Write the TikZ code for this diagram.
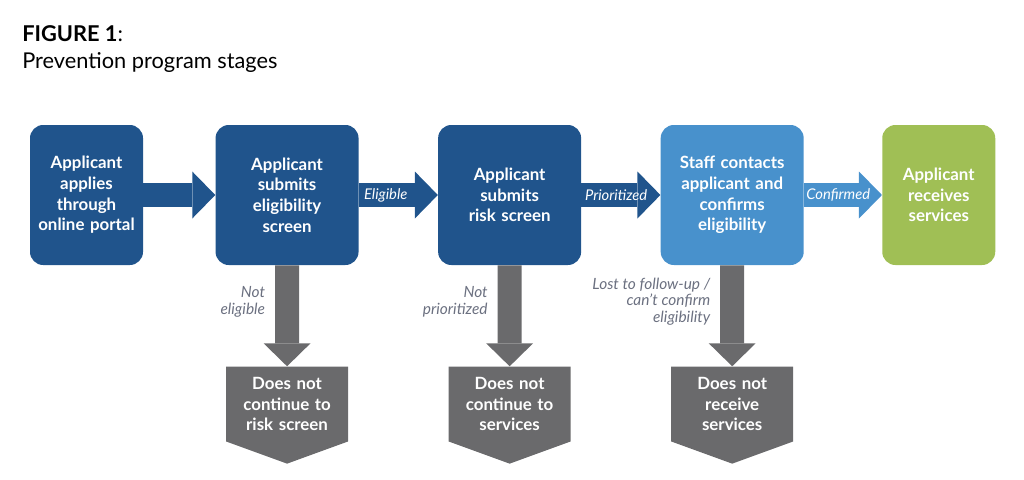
\documentclass[tikz,border=0pt]{standalone}
\usepackage{fontspec}
\setmainfont{Lato}
\usepackage{tikz}
\usetikzlibrary{arrows.meta,positioning,shapes.symbols}
\definecolor{hblue}{HTML}{20548C}
\definecolor{lblue}{HTML}{4891CC}
\definecolor{hgreen}{HTML}{A0BF55}
\definecolor{grisO}{HTML}{6A6A6C}
\definecolor{grisL}{HTML}{6B7080}
\tikzset{
  stage/.style={rectangle, rounded corners=3.3mm, fill=#1, text=white, inner sep=0pt,
                align=center, font=\bfseries\fontsize{12}{14.7}\selectfont, minimum height=3.5cm},
  outcome/.style={signal, signal to=south, signal from=nowhere, signal pointer angle=140,
                  fill=grisO, text=white, inner sep=0pt, align=center, text width=2.9cm,
                  font=\bfseries\fontsize{12}{14.7}\selectfont, minimum width=3.05cm, minimum height=2.4cm},
  flow/.style={draw=#1, line width=0.6cm,
               -{Triangle[length=0.575cm, width=1.175cm, line width=0pt]}},
  lbl/.style={text=white, inner sep=0pt, font=\itshape\fontsize{10.5}{12}\selectfont},
  lost/.style={text=grisL, inner sep=0pt, align=right, font=\itshape\fontsize{11}{12}\selectfont},
}
\begin{document}
\begin{tikzpicture}[node distance=1.975cm]
    \useasboundingbox (0,0) rectangle (25.6,-11.975);
    % title
    \node[anchor=base west, inner sep=0pt, font=\fontsize{15.5}{18}\selectfont] (fig)
      at (0.55,-1.025) {\textbf{FIGURE 1}:};
    \node[anchor=base west, inner sep=0pt, font=\fontsize{15.5}{18}\selectfont] (sub)
      at (0.55,-1.7) {Prevention program stages};
    % stages
    \node[stage=hblue, text width=2.825cm] (n1) at (2.1625,-4.875)
      {Applicant\\applies\\through\\online portal};
    \node[stage=hblue, text width=3.575cm, right=1.8cm of n1] (n2)
      {Applicant\\submits\\eligibility\\screen};
    \node[stage=hblue, text width=3.575cm, right=of n2] (n3)
      {Applicant\\submits\\risk screen};
    \node[stage=lblue, text width=3.575cm, right=of n3] (n4)
      {Staff contacts\\applicant and\\confirms\\eligibility};
    \node[stage=hgreen, text width=2.825cm, right=1.95cm of n4] (n5)
      {Applicant\\receives\\services};
    % outcomes
    \node[outcome, below=2.525cm of n2] (d2) {Does not\\continue to\\risk screen};
    \node[outcome, below=2.525cm of n3] (d3) {Does not\\continue to\\services};
    \node[outcome, below=2.525cm of n4] (d4) {Does not\\receive\\services};
    % arrows
    \draw[flow=hblue] (n1) -- (n2);
    \draw[flow=hblue] (n2) -- (n3) node[pos=0.34, lbl] {Eligible};
    \draw[flow=hblue] (n3) -- (n4) node[pos=0.44, lbl] {Prioritized};
    \draw[flow=lblue] (n4) -- (n5) node[pos=0.44, lbl] {Confirmed};
    \draw[flow=grisO] (n2) -- (d2) node[pos=0.36, left=2.5mm, lost] {Not\\eligible};
    \draw[flow=grisO] (n3) -- (d3) node[pos=0.36, left=2.5mm, lost] {Not\\prioritized};
    \draw[flow=grisO] (n4) -- (d4) node[pos=0.36, left=2.5mm, lost] {Lost to follow-up /\\can’t confirm\\eligibility};
\end{tikzpicture}
\end{document}
